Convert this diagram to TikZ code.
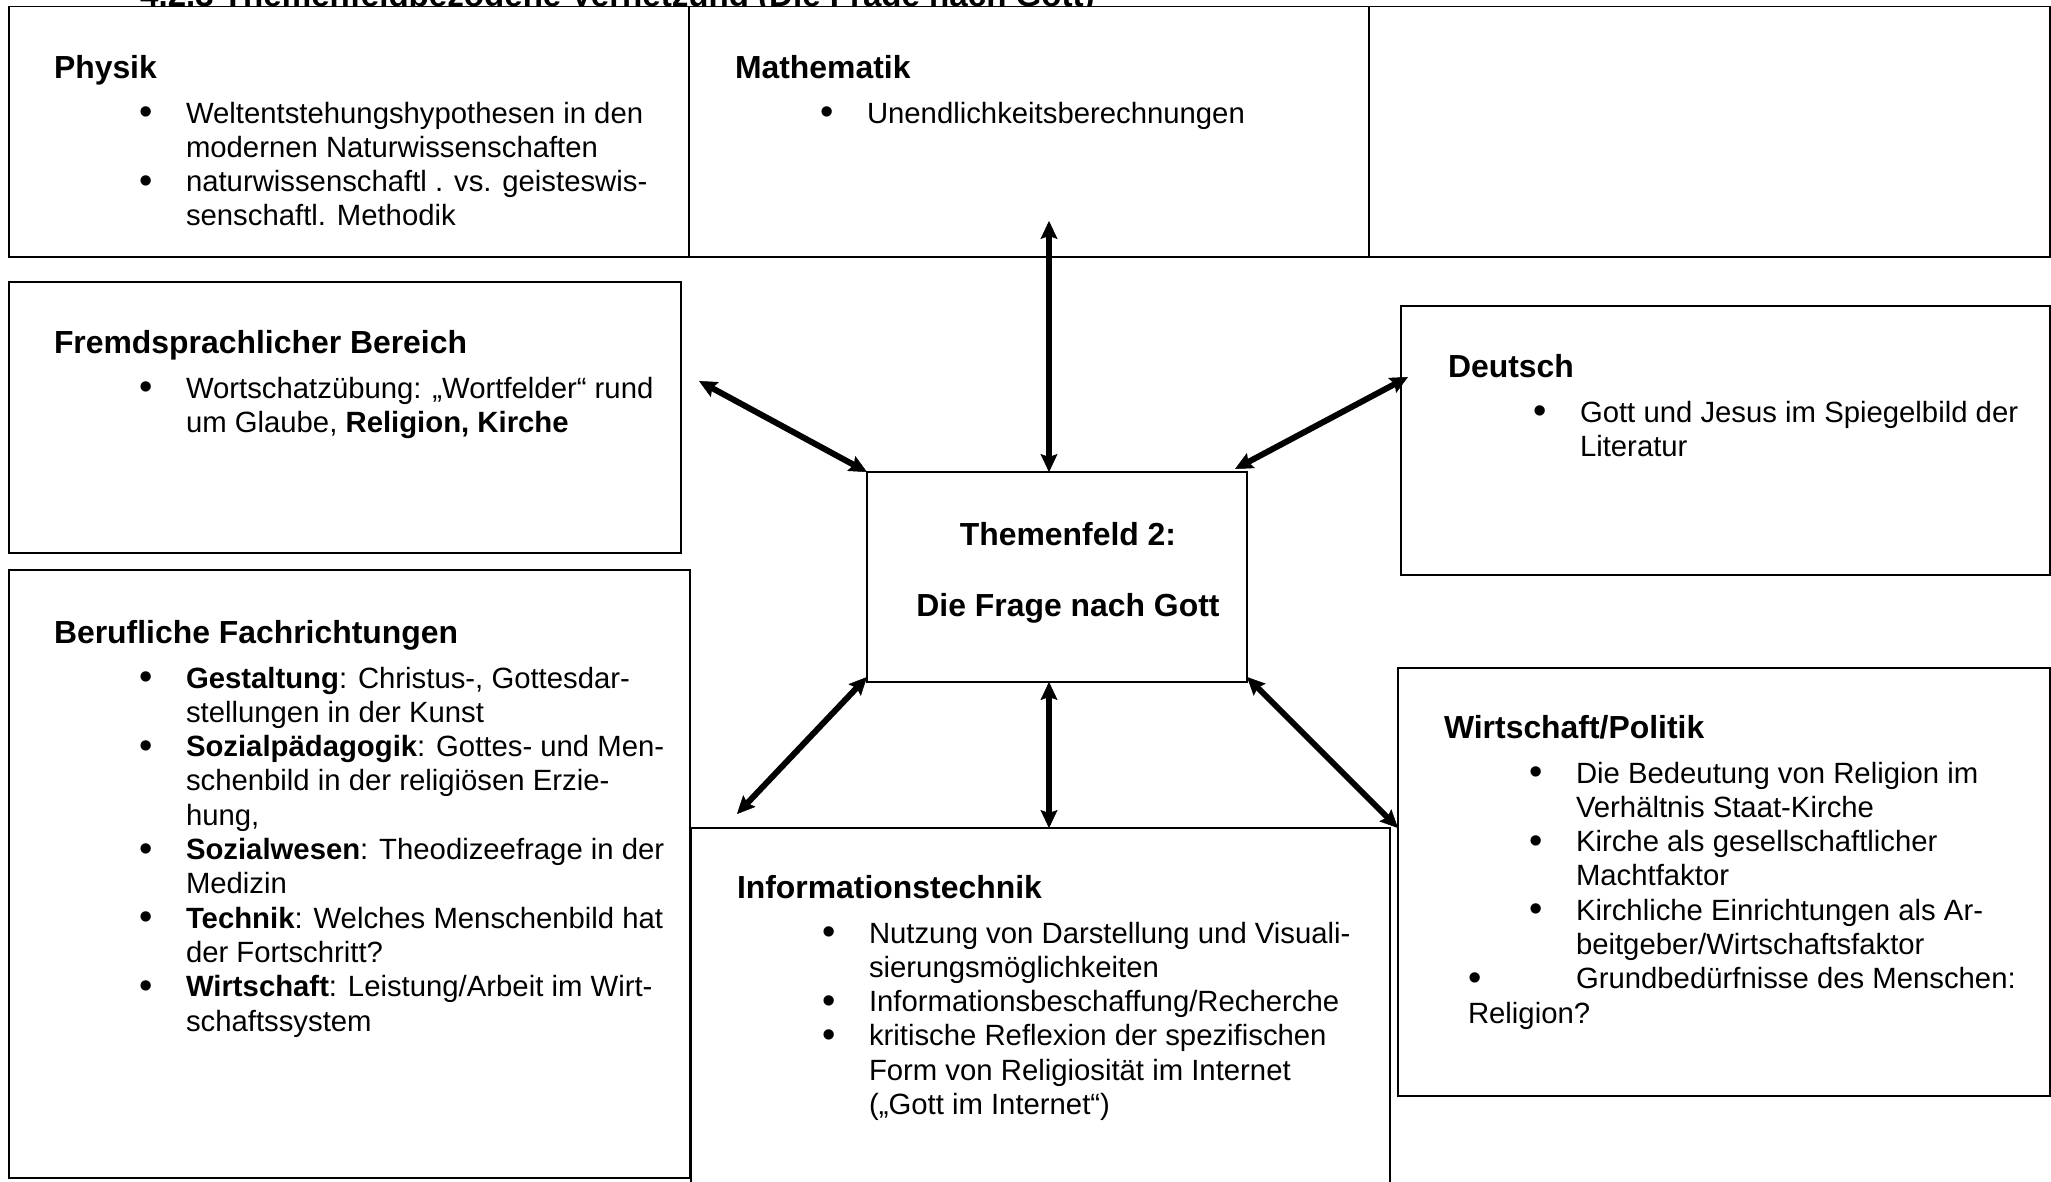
\documentclass[tikz,border=0pt]{standalone}
\usepackage{fontspec}
\setmainfont{Liberation Sans}
\usetikzlibrary{arrows.meta}

% enlarged list bullet
\newcommand\punkt{\raisebox{-1.5pt}{\fontsize{38}{34}\selectfont\textbullet}}
% bullet with fixed width up to the item text
\newcommand\pkt{\makebox[47pt][l]{\punkt}}
% box heading, slightly larger and bold
\newcommand\kopf[1]{{\fontsize{31.9}{34.3}\selectfont\bfseries #1}}
\newcommand\kopfzeile[1]{\multicolumn{2}{@{}l@{}}{\kopf{#1}}\\[10.7pt]}
% bullet list: first column holds the indented bullet, second the text
\newenvironment{liste}{\begin{tabular}[t]{@{\hspace{85pt}}l@{}l@{}}}{\end{tabular}}

\tikzset{
  spitze/.tip={Stealth[length=18pt,width=17pt,inset=3pt,line width=0.5pt]},
  feld/.style={draw, line width=1.7pt, fill=white, inner sep=0pt, outer sep=0pt, anchor=north west},
  inhalt/.style={anchor=base west, inner sep=0pt, outer sep=0pt, font=\fontsize{29.3}{34.3}\selectfont},
  pfeil/.style={line width=6pt, arrows={spitze-spitze}},
}

\begin{document}
\begin{tikzpicture}[x=1pt,y=-1pt]
\useasboundingbox (0,0) rectangle (2051,1181);
\clip (0,0) rectangle (2051,1181);

% section title above the table
\node[anchor=base west, inner sep=0pt, font=\fontsize{33.1}{36}\selectfont\bfseries] (titel) at (140,6)
  {4.2.3 Themenfeldbezogene Vernetzung (Die Frage nach Gott)};

% top row of three cells
\node[feld, minimum width=680pt, minimum height=250.5pt] (physik) at (9,6.5) {};
\node[feld, minimum width=680pt, minimum height=250.5pt] (mathe) at (689,6.5) {};
\node[feld, minimum width=681pt, minimum height=250.5pt] (leer) at (1369,6.5) {};

% surrounding subject boxes
\node[feld, minimum width=672pt, minimum height=271pt] (fremd) at (9,282) {};
\node[feld, minimum width=681pt, minimum height=608pt] (beruf) at (9,570) {};
\node[feld, minimum width=699pt, minimum height=400pt] (info) at (691,828) {};
\node[feld, minimum width=649pt, minimum height=269pt] (deutsch) at (1401,306) {};
\node[feld, minimum width=652pt, minimum height=428pt] (wipo) at (1398,668) {};

% central topic box
\node[feld, minimum width=380pt, minimum height=210pt] (zentrum) at (867,472) {};
\node[anchor=base, inner sep=0pt, font=\fontsize{31.9}{34.3}\selectfont\bfseries] (thema) at (1068,545)
  {\begin{tabular}[t]{@{}c@{}}Themenfeld 2:\\[36.7pt]Die Frage nach Gott\end{tabular}};

% box contents
\node[inhalt] (physikText) at (54,78) {\begin{liste}
\kopfzeile{Physik}
\pkt & Weltentstehungshypothesen in den\\
 & modernen Naturwissenschaften\\
\pkt & naturwissenschaftl . vs. geisteswis-\\
 & senschaftl. Methodik
\end{liste}};

\node[inhalt] (matheText) at (735,78) {\begin{liste}
\kopfzeile{Mathematik}
\pkt & Unendlichkeitsberechnungen
\end{liste}};

\node[inhalt] (fremdText) at (54,353) {\begin{liste}
\kopfzeile{Fremdsprachlicher Bereich}
\pkt & Wortschatzübung: „Wortfelder“ rund\\
 & um Glaube, \textbf{Religion, Kirche}
\end{liste}};

\node[inhalt] (deutschText) at (1448,377) {\begin{liste}
\kopfzeile{Deutsch}
\pkt & Gott und Jesus im Spiegelbild der\\
 & Literatur
\end{liste}};

\node[inhalt] (berufText) at (54,643) {\begin{liste}
\kopfzeile{Berufliche Fachrichtungen}
\pkt & \textbf{Gestaltung}: Christus-, Gottesdar-\\
 & stellungen in der Kunst\\
\pkt & \textbf{Sozialpädagogik}: Gottes- und Men-\\
 & schenbild in der religiösen Erzie-\\
 & hung,\\
\pkt & \textbf{Sozialwesen}: Theodizeefrage in der\\
 & Medizin\\
\pkt & \textbf{Technik}: Welches Menschenbild hat\\
 & der Fortschritt?\\
\pkt & \textbf{Wirtschaft}: Leistung/Arbeit im Wirt-\\
 & schaftssystem
\end{liste}};

\node[inhalt] (infoText) at (737,898) {\begin{liste}
\kopfzeile{Informationstechnik}
\pkt & Nutzung von Darstellung und Visuali-\\
 & sierungsmöglichkeiten\\
\pkt & Informationsbeschaffung/Recherche\\
\pkt & kritische Reflexion der spezifischen\\
 & Form von Religiosität im Internet\\
 & („Gott im Internet“)
\end{liste}};

\node[inhalt] (wipoText) at (1444,738) {\begin{liste}
\kopfzeile{Wirtschaft/Politik}
\pkt & Die Bedeutung von Religion im\\
 & Verhältnis Staat-Kirche\\
\pkt & Kirche als gesellschaftlicher\\
 & Machtfaktor\\
\pkt & Kirchliche Einrichtungen als Ar-\\
 & beitgeber/Wirtschaftsfaktor\\
\multicolumn{2}{@{}l@{}}{\hspace{24pt}\makebox[108pt][l]{\punkt}Grundbedürfnisse des Menschen:}\\
\multicolumn{2}{@{}l@{}}{\hspace{24pt}Religion?}
\end{liste}};

% free ends of the double arrows
\coordinate (pO) at (1049,221);
\coordinate (pFS) at (699,381);
\coordinate (pDE) at (1408,377);
\coordinate (pBF) at (737,814);

% double arrows linking the topic with the subjects
\draw[pfeil] (pO) -- (pO |- zentrum.north);
\draw[pfeil] (pFS) -- (zentrum.north west);
\draw[pfeil] (pDE) -- ([xshift=-12pt,yshift=3pt]zentrum.north east);
\draw[pfeil] (pBF) -- ([yshift=5pt]zentrum.south west);
\draw[pfeil] (pO |- zentrum.south) -- (pO |- info.north);
\draw[pfeil] ([yshift=5pt]zentrum.south east) -- (wipo.west |- info.north);
\end{tikzpicture}
\end{document}
